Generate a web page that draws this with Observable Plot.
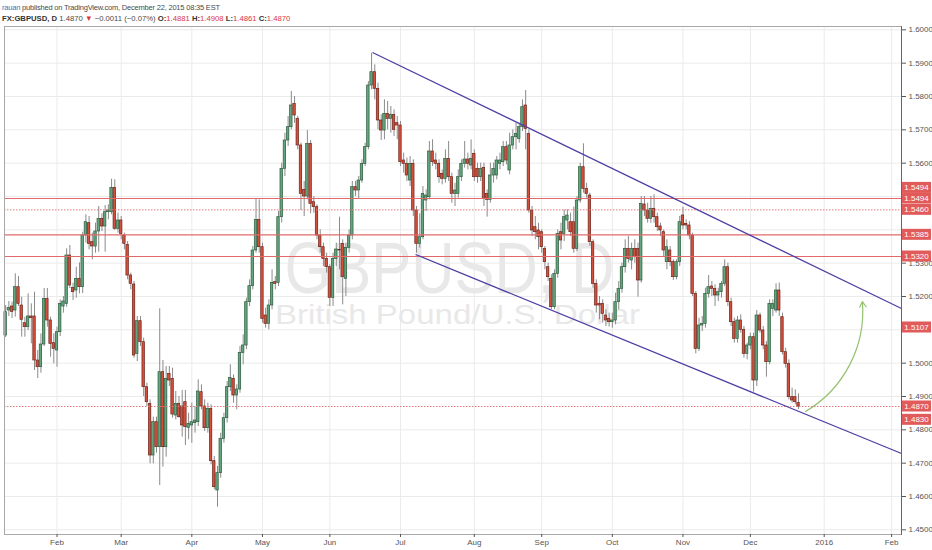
<!DOCTYPE html>
<html><head><meta charset="utf-8">
<script src="https://cdn.jsdelivr.net/npm/d3@7"></script>
<script src="https://cdn.jsdelivr.net/npm/@observablehq/plot@0.6"></script>
<style>
body{margin:0;background:#fff;width:932px;height:550px;overflow:hidden;font-family:"Liberation Sans",Arial,sans-serif;}
#hdr{position:relative;height:26px;}
#hdr div{position:absolute;left:2px;white-space:nowrap;color:#4a4a4a;}
#hdr .l1{top:3px;font-size:7.5px;letter-spacing:-0.2px;}
#hdr .l2{top:14px;font-size:7.7px;}
#hdr .r{color:#d9363e;}
#hdr b{color:#333;}
#chart svg{display:block;}
</style></head><body>
<div id="hdr">
 <div class="l1"><span style="color:#2b7bc4">rauan</span> published on TradingView.com, December 22, 2015 08:35 EST</div>
 <div class="l2"><b>FX:GBPUSD, D</b> 1.4870 <span class="r">▼</span> −0.0011 (−0.07%) <b>O:</b><span class="r">1.4881</span> <b>H:</b><span class="r">1.4908</span> <b>L:</b><span class="r">1.4861</span> <b>C:</b><span class="r">1.4870</span></div>
</div>
<div id="chart"></div>
<script>
// bar index 0 = Feb 2, 2015 (daily bars, weekdays only); first bar is 16 bars earlier
const firstBarIndex = -16;
const openP = [
1.5083,1.5158,1.5170,1.5158,1.5228,1.5173,1.5120,1.5108,1.5140,1.5140,
1.5008,1.4988,1.5056,1.5193,1.5128,1.5060,
1.5038,1.5093,1.5170,1.5178,1.5323,1.5226,1.5218,1.5253,1.5228,1.5383,
1.5420,1.5363,1.5350,1.5395,1.5433,1.5410,1.5453,1.5453,1.5526,1.5403,
1.5428,1.5383,1.5355,1.5263,1.5236,1.5028,1.5126,1.5063,1.4928,1.4878,
1.4723,1.4823,1.4748,1.4973,1.4748,1.4968,1.4953,1.4843,1.4878,1.4870,
1.4883,1.4806,1.4813,1.4820,1.4823,1.4913,1.4870,1.4805,1.4863,1.4706,
1.4618,1.4670,1.4773,1.4835,1.4928,1.4953,1.4903,1.4921,1.5031,1.5053,
1.5183,1.5231,1.5338,1.5430,1.5348,1.5143,1.5118,1.5173,1.5243,1.5241,
1.5438,1.5583,1.5668,1.5708,1.5778,1.5733,1.5653,1.5520,1.5500,1.5658,
1.5483,1.5468,1.5383,1.5348,1.5313,1.5288,1.5196,1.5313,1.5340,1.5358,
1.5253,1.5346,1.5383,1.5528,1.5518,1.5548,1.5598,1.5648,1.5833,1.5873,
1.5823,1.5728,1.5698,1.5748,1.5733,1.5745,1.5720,1.5713,1.5608,1.5598,
1.5548,1.5598,1.5458,1.5358,1.5378,1.5488,1.5498,1.5635,1.5608,1.5598,
1.5568,1.5553,1.5613,1.5558,1.5508,1.5508,1.5558,1.5598,1.5611,1.5593,
1.5628,1.5583,1.5558,1.5586,1.5508,1.5490,1.5563,1.5563,1.5598,1.5603,
1.5648,1.5578,1.5653,1.5678,1.5673,1.5708,1.5773,1.5688,1.5458,1.5408,
1.5398,1.5393,1.5343,1.5288,1.5253,1.5168,1.5268,1.5393,1.5388,1.5428,
1.5423,1.5423,1.5343,1.5488,1.5588,1.5523,1.5503,1.5363,1.5238,1.5178,
1.5178,1.5143,1.5133,1.5123,1.5128,1.5183,1.5223,1.5288,1.5343,1.5308,
1.5343,1.5343,1.5248,1.5476,1.5458,1.5433,1.5463,1.5438,1.5410,1.5393,
1.5303,1.5338,1.5303,1.5258,1.5303,1.5443,1.5418,1.5413,1.5383,1.5208,
1.5043,1.5113,1.5118,1.5208,1.5230,1.5223,1.5203,1.5213,1.5238,1.5288,
1.5183,1.5123,1.5073,1.5128,1.5100,1.5028,1.5053,1.5078,1.4948,1.5143,
1.5098,1.5053,1.5003,1.5163,1.5158,1.5218,1.5138,1.5033,1.4998,1.4898,
1.4898,1.4881];
const highP = [
1.5173,1.5185,1.5183,1.5268,1.5260,1.5198,1.5138,1.5208,1.5178,1.5213,
1.5038,1.5088,1.5224,1.5224,1.5138,1.5088,
1.5108,1.5190,1.5200,1.5343,1.5353,1.5240,1.5288,1.5301,1.5393,1.5445,
1.5440,1.5390,1.5420,1.5470,1.5448,1.5473,1.5475,1.5552,1.5550,1.5450,
1.5440,1.5390,1.5365,1.5270,1.5245,1.5140,1.5140,1.5075,1.4940,1.4890,
1.4838,1.4838,1.5163,1.5008,1.4990,1.4990,1.4985,1.4915,1.4900,1.4918,
1.4918,1.4850,1.4880,1.4870,1.4950,1.4935,1.4890,1.4880,1.4875,1.4720,
1.4690,1.4790,1.4850,1.4945,1.4995,1.4965,1.4935,1.5050,1.5085,1.5195,
1.5250,1.5350,1.5494,1.5490,1.5360,1.5165,1.5190,1.5280,1.5260,1.5455,
1.5600,1.5690,1.5740,1.5815,1.5800,1.5740,1.5660,1.5545,1.5698,1.5668,
1.5500,1.5475,1.5400,1.5360,1.5330,1.5295,1.5330,1.5360,1.5438,1.5370,
1.5360,1.5400,1.5545,1.5545,1.5560,1.5610,1.5660,1.5845,1.5930,1.5895,
1.5840,1.5745,1.5790,1.5785,1.5770,1.5760,1.5740,1.5725,1.5630,1.5615,
1.5620,1.5610,1.5470,1.5448,1.5530,1.5520,1.5665,1.5670,1.5630,1.5610,
1.5580,1.5640,1.5665,1.5570,1.5540,1.5580,1.5610,1.5665,1.5630,1.5670,
1.5640,1.5600,1.5600,1.5600,1.5520,1.5600,1.5600,1.5620,1.5630,1.5665,
1.5665,1.5690,1.5700,1.5720,1.5720,1.5790,1.5818,1.5700,1.5470,1.5440,
1.5420,1.5400,1.5350,1.5300,1.5265,1.5280,1.5400,1.5420,1.5460,1.5460,
1.5450,1.5468,1.5500,1.5600,1.5658,1.5540,1.5510,1.5370,1.5250,1.5200,
1.5190,1.5160,1.5150,1.5150,1.5210,1.5245,1.5300,1.5370,1.5380,1.5360,
1.5370,1.5360,1.5500,1.5500,1.5480,1.5500,1.5505,1.5450,1.5420,1.5400,
1.5370,1.5350,1.5310,1.5310,1.5440,1.5468,1.5430,1.5425,1.5390,1.5215,
1.5135,1.5140,1.5225,1.5263,1.5245,1.5235,1.5225,1.5245,1.5310,1.5300,
1.5195,1.5135,1.5140,1.5145,1.5110,1.5060,1.5090,1.5090,1.5158,1.5150,
1.5110,1.5065,1.5190,1.5190,1.5238,1.5240,1.5150,1.5045,1.5010,1.4925,
1.4920,1.4908];
const lowP = [
1.5077,1.5140,1.5134,1.5138,1.5170,1.5078,1.5078,1.5098,1.5058,1.4978,
1.4954,1.4970,1.5050,1.5108,1.5018,1.4998,
1.4988,1.5080,1.5150,1.5168,1.5224,1.5188,1.5195,1.5208,1.5209,1.5360,
1.5340,1.5310,1.5330,1.5333,1.5395,1.5333,1.5430,1.5445,1.5398,1.5390,
1.5370,1.5340,1.5250,1.5220,1.5015,1.5005,1.5050,1.4900,1.4870,1.4698,
1.4698,1.4730,1.4633,1.4688,1.4718,1.4930,1.4835,1.4830,1.4835,1.4778,
1.4753,1.4770,1.4760,1.4790,1.4810,1.4860,1.4795,1.4790,1.4695,1.4620,
1.4568,1.4655,1.4760,1.4820,1.4915,1.4880,1.4860,1.4910,1.4995,1.5040,
1.5170,1.5220,1.5330,1.5330,1.5120,1.5105,1.5100,1.5160,1.5220,1.5230,
1.5420,1.5560,1.5650,1.5700,1.5720,1.5640,1.5458,1.5440,1.5490,1.5448,
1.5450,1.5370,1.5330,1.5290,1.5270,1.5170,1.5170,1.5290,1.5280,1.5175,
1.5200,1.5330,1.5370,1.5500,1.5493,1.5540,1.5590,1.5640,1.5820,1.5790,
1.5700,1.5668,1.5670,1.5700,1.5690,1.5680,1.5670,1.5590,1.5570,1.5545,
1.5530,1.5440,1.5330,1.5345,1.5370,1.5455,1.5490,1.5590,1.5580,1.5540,
1.5535,1.5540,1.5545,1.5480,1.5470,1.5495,1.5545,1.5585,1.5580,1.5580,
1.5545,1.5540,1.5545,1.5470,1.5438,1.5480,1.5540,1.5550,1.5580,1.5590,
1.5595,1.5565,1.5640,1.5640,1.5660,1.5695,1.5640,1.5450,1.5380,1.5370,
1.5340,1.5330,1.5280,1.5245,1.5160,1.5160,1.5255,1.5340,1.5365,1.5400,
1.5380,1.5330,1.5335,1.5480,1.5510,1.5495,1.5350,1.5225,1.5150,1.5130,
1.5120,1.5110,1.5108,1.5105,1.5115,1.5160,1.5210,1.5270,1.5300,1.5280,
1.5300,1.5198,1.5240,1.5440,1.5420,1.5420,1.5420,1.5395,1.5380,1.5320,
1.5280,1.5290,1.5248,1.5250,1.5290,1.5400,1.5400,1.5370,1.5200,1.5028,
1.5035,1.5095,1.5105,1.5195,1.5200,1.5170,1.5185,1.5195,1.5230,1.5170,
1.5110,1.5060,1.5060,1.5090,1.5015,1.5010,1.5040,1.4913,1.4930,1.5090,
1.5040,1.4958,1.4995,1.5140,1.5150,1.5140,1.5025,1.4985,1.4890,1.4880,
1.4875,1.4861];
const closeP = [
1.5153,1.5166,1.5154,1.5228,1.5178,1.5130,1.5108,1.5140,1.5135,1.5008,
1.4988,1.5056,1.5193,1.5128,1.5058,1.5043,
1.5093,1.5178,1.5185,1.5323,1.5233,1.5213,1.5253,1.5228,1.5383,1.5423,
1.5358,1.5350,1.5395,1.5433,1.5410,1.5453,1.5458,1.5526,1.5403,1.5428,
1.5388,1.5358,1.5263,1.5238,1.5023,1.5126,1.5063,1.4928,1.4883,1.4723,
1.4823,1.4748,1.4973,1.4748,1.4953,1.4948,1.4846,1.4878,1.4838,1.4813,
1.4808,1.4818,1.4823,1.4828,1.4915,1.4870,1.4805,1.4863,1.4706,1.4628,
1.4670,1.4773,1.4835,1.4928,1.4956,1.4903,1.4921,1.5031,1.5053,1.5183,
1.5231,1.5338,1.5430,1.5348,1.5133,1.5118,1.5173,1.5241,1.5238,1.5438,
1.5583,1.5668,1.5708,1.5773,1.5743,1.5653,1.5508,1.5500,1.5658,1.5478,
1.5468,1.5383,1.5348,1.5313,1.5288,1.5196,1.5313,1.5341,1.5338,1.5258,
1.5346,1.5383,1.5528,1.5518,1.5548,1.5598,1.5648,1.5833,1.5873,1.5823,
1.5728,1.5698,1.5748,1.5733,1.5745,1.5700,1.5713,1.5603,1.5598,1.5563,
1.5598,1.5458,1.5358,1.5378,1.5508,1.5503,1.5635,1.5603,1.5598,1.5558,
1.5553,1.5613,1.5558,1.5508,1.5518,1.5558,1.5598,1.5611,1.5598,1.5613,
1.5558,1.5558,1.5583,1.5493,1.5490,1.5563,1.5583,1.5608,1.5608,1.5648,
1.5608,1.5653,1.5678,1.5688,1.5708,1.5768,1.5703,1.5458,1.5398,1.5393,
1.5378,1.5348,1.5303,1.5258,1.5168,1.5268,1.5388,1.5368,1.5438,1.5443,
1.5393,1.5343,1.5488,1.5588,1.5523,1.5508,1.5363,1.5238,1.5173,1.5173,
1.5148,1.5128,1.5123,1.5128,1.5183,1.5223,1.5288,1.5343,1.5313,1.5343,
1.5318,1.5248,1.5478,1.5458,1.5433,1.5463,1.5438,1.5408,1.5398,1.5338,
1.5348,1.5303,1.5258,1.5303,1.5423,1.5413,1.5413,1.5383,1.5208,1.5043,
1.5113,1.5118,1.5208,1.5228,1.5223,1.5203,1.5213,1.5238,1.5288,1.5183,
1.5123,1.5073,1.5128,1.5100,1.5028,1.5053,1.5078,1.4948,1.5143,1.5098,
1.5053,1.5003,1.5178,1.5178,1.5218,1.5158,1.5033,1.4998,1.4898,1.4888,
1.4883,1.4870];

const monthLabels = ["Feb","Mar","Apr","May","Jun","Jul","Aug","Sep","Oct","Nov","Dec","2016","Feb"];
const monthBars   = [0,20,42,64,85,107,130,151,173,195,216,239,260];
const priceTicks  = [1.45,1.46,1.47,1.48,1.49,1.50,1.51,1.52,1.53,1.54,1.55,1.56,1.57,1.58,1.59,1.60];
// tick labels that sit under the red price labels in the reference
const coveredTicks = [1.51,1.54,1.55];
const solidLevels  = [1.5494,1.5494,1.5385,1.5320];
const dottedLevels = [1.5460,1.4870];
const levelLabels  = [1.5494,1.5460,1.5385,1.5320,1.5107,1.4870,1.4830];
const stackedLabels = [1.5494];
const channelUpper = [{x1:98.3,y1:1.5932,x2:263.08,y2:1.5164}];
const channelLower = [{x1:111.7,y1:1.5326,x2:263.08,y2:1.4729}];
const forecastArrow = [{x1:233.2,y1:1.4855,x2:250.9,y2:1.5185}];
const watermarkTitle = "GBPUSD, D";
const watermarkSub = "British Pound/U.S. Dollar";

const bars = openP.map((o,k)=>({i:firstBarIndex+k,o,h:highP[k],l:lowP[k],c:closeP[k]}));
const upFill="#63a57e", upStroke="#2d5c3d", dnFill="#d4503e", dnStroke="#6e2419";

const chart = Plot.plot({
  width:932, height:524,
  marginTop:0, marginBottom:16, marginLeft:4, marginRight:31,
  style:{fontFamily:"Liberation Sans, Arial, sans-serif", fontSize:"8px", color:"#555", background:"#fff"},
  x:{type:"linear", domain:[-16.355,263.08]},
  y:{domain:[1.4486,1.6010]},
  color:{type:"identity"},
  marks:[
    Plot.gridX(monthBars,{stroke:"#ebebeb",strokeOpacity:1}),
    Plot.gridY(priceTicks,{stroke:"#ebebeb",strokeOpacity:1}),
    Plot.text([watermarkTitle],{text:d=>d,frameAnchor:"middle",dx:-3.5,dy:12,lineAnchor:"bottom",fontSize:72,fill:"#e8e8e8"}),
    Plot.text([watermarkSub],{text:d=>d,frameAnchor:"middle",dx:4.5,dy:43,lineAnchor:"bottom",fontSize:28,fill:"#e8e8e8"}),
    Plot.ruleX(bars,{x:"i",y1:"l",y2:"h",stroke:"#8a8a8a",strokeWidth:1}),
    Plot.rect(bars,{x1:d=>d.i-0.38,x2:d=>d.i+0.38,y1:"o",y2:"c",
      fill:d=>d.c>=d.o?upFill:dnFill, stroke:d=>d.c>=d.o?upStroke:dnStroke, strokeWidth:0.7}),
    Plot.ruleY(solidLevels,{stroke:"#e06a6a",strokeWidth:1.2}),
    Plot.ruleY(dottedLevels,{stroke:"#e07a7a",strokeWidth:1,strokeDasharray:"1.5,1.5"}),
    Plot.link(channelUpper,{x1:"x1",y1:"y1",x2:"x2",y2:"y2",stroke:"#4e3fa3",strokeWidth:1.3}),
    Plot.link(channelLower,{x1:"x1",y1:"y1",x2:"x2",y2:"y2",stroke:"#4e3fa3",strokeWidth:1.3}),
    Plot.arrow(forecastArrow,{x1:"x1",y1:"y1",x2:"x2",y2:"y2",bend:-32,stroke:"#93c26f",strokeWidth:1.2,headLength:8}),
    Plot.frame({stroke:"#a8a8a8"}),
    Plot.frame({anchor:"right",stroke:"#666"}),
    Plot.axisY({anchor:"right",ticks:priceTicks,tickFormat:d=>coveredTicks.some(t=>Math.abs(t-d)<1e-6)?"":d.toFixed(4),tickSize:4,tickPadding:3,fontSize:8,color:"#555"}),
    Plot.axisX({ticks:monthBars,tickFormat:d=>monthLabels[monthBars.indexOf(d)],tickSize:3,tickPadding:2,fontSize:8,color:"#555"})
  ]
});
document.getElementById("chart").append(chart);

const svg = d3.select(chart);
svg.selectAll("text").filter(function(){return this.textContent===watermarkTitle;})
  .attr("textLength",330).attr("lengthAdjust","spacingAndGlyphs");
svg.selectAll("text").filter(function(){return this.textContent===watermarkSub;})
  .attr("textLength",365).attr("lengthAdjust","spacingAndGlyphs");

const ySc = chart.scale("y"), xSc = chart.scale("x");
const xR = xSc.range[1];
const lg = svg.append("g");
function addLabel(p, dy){
  const yy = ySc.apply(p)+dy;
  lg.append("rect").attr("x",xR+1).attr("y",yy-5.5).attr("width",29).attr("height",11).attr("fill","#e25b5b");
  lg.append("text").attr("x",xR+15.5).attr("y",yy+3).attr("text-anchor","middle")
    .attr("font-size",8).attr("fill","#fff").attr("font-family","Liberation Sans, Arial, sans-serif").text(p.toFixed(4));
}
levelLabels.forEach(p=>addLabel(p,0));
stackedLabels.forEach(p=>addLabel(p,-10.6));
</script>
</body></html>
